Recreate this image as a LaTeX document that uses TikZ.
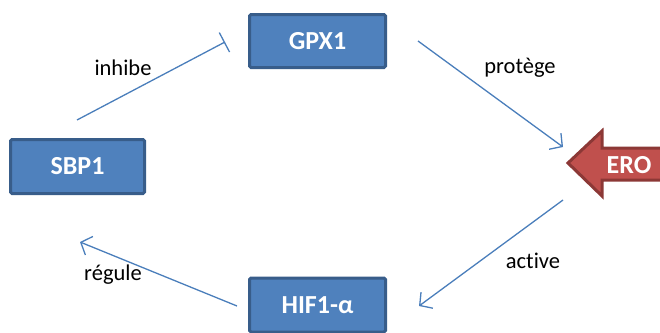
\documentclass[tikz,border=0pt]{standalone}
\usepackage{fontspec}
\setmainfont{Carlito}[Ligatures={NoCommon}]
\usetikzlibrary{arrows.meta}
\definecolor{boxfill}{HTML}{4F81BD}
\definecolor{boxline}{HTML}{385D8A}
\definecolor{conn}{HTML}{4A7EBB}
\definecolor{erofill}{HTML}{C0504D}
\definecolor{eroline}{HTML}{8C3836}
\tikzset{
  gene/.style={draw=boxline, line width=3pt, fill=boxfill, rounded corners=1.5pt,
    text=white, font=\fontsize{26}{28}\selectfont\bfseries, inner sep=0pt},
  link/.style={draw=conn, line width=1.3pt},
  lbl/.style={font=\fontsize{22.5}{25}\selectfont, text=black, inner sep=0pt},
  opentip/.style={-{Straight Barb[length=9pt,width=20pt,line width=1.3pt]}},
  bartip/.style={-{Bar[width=22pt,line width=1.3pt]}}
}
\begin{document}
\begin{tikzpicture}[x=1pt,y=-1pt]
\useasboundingbox (0,0) rectangle (660,332);
\node[gene, minimum width=136pt, minimum height=53pt] (gpx) at (317.5,41) {GPX1};
\node[gene, minimum width=134pt, minimum height=54pt] (sbp) at (77.5,166.5) {SBP1};
\node[gene, minimum width=136pt, minimum height=54pt] (hif) at (317.5,305) {HIF1-α};
% ERO arrow
\draw[draw=eroline, line width=3pt, fill=erofill, line join=miter]
  (568,163) -- (602,131) -- (602,148) -- (664,148) -- (664,180) -- (602,180) -- (602,196) -- cycle;
\node[text=white, font=\fontsize{26}{28}\selectfont\bfseries, inner sep=0pt] (ero) at (629,165) {ERO};
\coordinate (eroin) at (563,147);
\coordinate (eroout) at (563,200);
\coordinate (sbpin) at (80,242);
\coordinate (sbpout) at (77,120);
\coordinate (gpxin) at (225,42);
\coordinate (gpxout) at (418,41);
\coordinate (hifin) at (419,306);
\coordinate (hifout) at (237,306);
\draw[link, bartip] (sbpout) -- (gpxin);
\draw[link, opentip] (gpxout) -- (eroin);
\draw[link, opentip] (eroout) -- (hifin);
\draw[link, opentip] (hifout) -- (sbpin);
\node[lbl] (l1) at (123,68) {inhibe};
\node[lbl] (l2) at (520,68) {protège};
\node[lbl] (l3) at (533,261) {active};
\node[lbl] (l4) at (113,275) {régule};
\end{tikzpicture}
\end{document}
